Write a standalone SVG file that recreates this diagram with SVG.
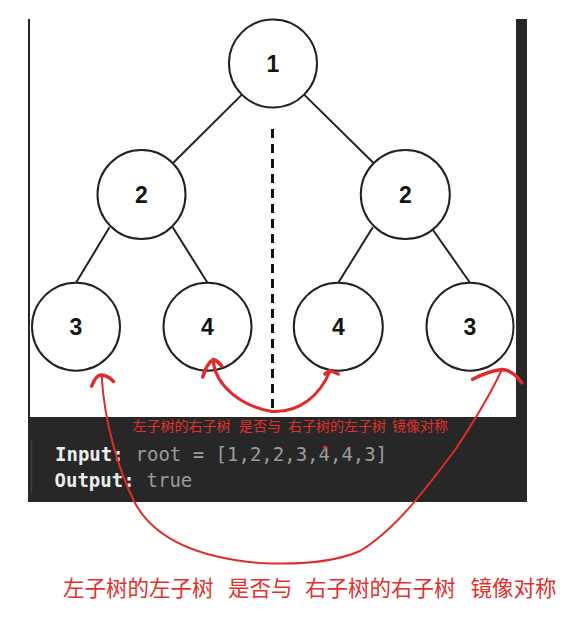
<svg xmlns="http://www.w3.org/2000/svg" width="585" height="618" viewBox="0 0 585 618">
<style>
.node ellipse{fill:#fff;stroke:#222;stroke-width:2}
.node text{font-family:"Liberation Sans",Arial,sans-serif;font-weight:bold;font-size:23px;fill:#151515;text-anchor:middle}
.edge{stroke:#222;stroke-width:2;fill:none}
.red{stroke:#e02b2b;fill:none;stroke-linecap:round;stroke-linejoin:round}
.code{font-family:"DejaVu Sans Mono","Liberation Mono",monospace;font-size:19px}
.kw{fill:#ececec;font-weight:bold}
.val{fill:#9c9c9c}
.cn{font-family:"Noto Sans CJK SC","Noto Sans CJK JP",sans-serif;fill:#e3302d}
</style>
<rect width="585" height="618" fill="#fff"/>
<!-- frame and code panel -->
<g id="panel">
<rect x="28" y="19" width="499" height="483" fill="#272727"/>
<rect x="30" y="0" width="486" height="417" fill="#fff"/>
<line x1="31.7" y1="440" x2="31.7" y2="493" stroke="#454545" stroke-width="1"/>
<text class="code" y="461"><tspan class="kw" x="55">Input:</tspan><tspan class="val" x="135.5">root = [1,2,2,3,4,4,3]</tspan></text>
<text class="code" y="486.5"><tspan class="kw" x="54.5">Output:</tspan><tspan class="val" x="146.5">true</tspan></text>
</g>
<g id="connectors">
<line class="edge" x1="241.9" y1="94.6" x2="173.3" y2="162.7"/>
<line class="edge" x1="304.1" y1="94.6" x2="373.8" y2="163.3"/>
<line class="edge" x1="109.5" y1="227.3" x2="76" y2="282.7"/>
<line class="edge" x1="172.7" y1="227.3" x2="207.5" y2="282.7"/>
<line class="edge" x1="372.8" y1="227.3" x2="338.3" y2="282.7"/>
<line class="edge" x1="432.3" y1="229" x2="470" y2="282.7"/>
<line x1="272.5" y1="129" x2="272.5" y2="414" stroke="#111" stroke-width="3" stroke-dasharray="9 6"/>
</g>
<g id="n1" class="node"><ellipse cx="273" cy="63.5" rx="44" ry="44"/><text x="273" y="72">1</text></g>
<g id="n2L" class="node"><ellipse cx="141.5" cy="194.5" rx="44" ry="44.5"/><text x="141.5" y="203">2</text></g>
<g id="n2R" class="node"><ellipse cx="405.3" cy="194.5" rx="44.5" ry="44.5"/><text x="405.3" y="203">2</text></g>
<g id="n3L" class="node"><ellipse cx="76" cy="326.7" rx="44" ry="44"/><text x="76" y="335.2">3</text></g>
<g id="n4L" class="node"><ellipse cx="207.5" cy="326.7" rx="44" ry="44"/><text x="207.5" y="335.2">4</text></g>
<g id="n4R" class="node"><ellipse cx="338.3" cy="326.7" rx="44.5" ry="44"/><text x="338.3" y="335.2">4</text></g>
<g id="n3R" class="node"><ellipse cx="470" cy="326.7" rx="43.5" ry="44"/><text x="470" y="335.2">3</text></g>
<g id="annotations">
<path class="red" stroke-width="2" d="M101.7,376 C104,420 118,470 135,503 C155,540 200,558 260,563 C300,565 335,562 360,551 C395,530 425,490 455,450 C475,420 490,395 501.7,370"/>
<path class="red" stroke-width="3.5" d="M91.7,386 Q96,374.5 101.7,375 Q108,375.5 113.5,381.5"/>
<path class="red" stroke-width="3.5" d="M472.7,379.3 Q488,371 501.7,369.5 Q513,370 521.7,382.7"/>
<path class="red" stroke-width="3" d="M213.3,362 C216,385 240,406 272,411.5 C300,413 320,395 330,371"/>
<path class="red" stroke-width="3.5" d="M202.7,377 Q207,363 213.3,359.5 Q218,361 221.7,366"/>
<path class="red" stroke-width="3.5" d="M325,374 L330,370.5 L338.3,374"/>
<circle cx="325" cy="447.3" r="1.8" fill="#e02b2b"/>
<text class="cn" font-size="14" y="431"><tspan x="132.5">左子树的右子树</tspan><tspan x="239">是否与</tspan><tspan x="288">右子树的左子树</tspan><tspan x="392">镜像对称</tspan></text>
<text class="cn" font-size="21.5" y="596"><tspan x="63">左子树的左子树</tspan><tspan x="228">是否与</tspan><tspan x="305">右子树的右子树</tspan><tspan x="470.5">镜像对称</tspan></text>
</g>
</svg>
